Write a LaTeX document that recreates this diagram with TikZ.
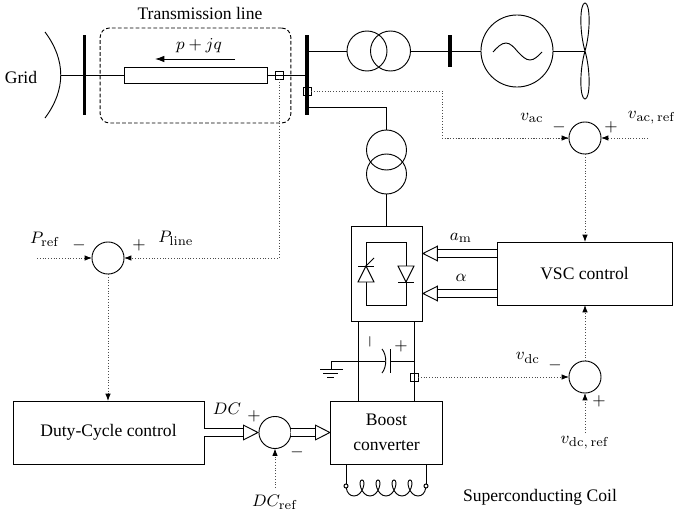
\documentclass[tikz,border=0pt]{standalone}
\usepackage[no-math]{fontspec}
\setmainfont{Liberation Serif}
\usetikzlibrary{arrows.meta, calc}

\begin{document}
\begin{tikzpicture}[
    x=0.54pt, y=-0.54pt, line width=0.5pt,
    every node/.style={font=\fontsize{9.5}{11.5}\selectfont},
    block/.style={rectangle, draw=black, outer sep=0pt, inner sep=0pt, align=center},
    summer/.style={circle, draw=black, outer sep=0pt, inner sep=0pt, minimum size=17.3pt},
    coilcircle/.style={circle, draw=black, outer sep=0pt, inner sep=0pt, minimum size=21.6pt},
    bus/.style={rectangle, fill=black, outer sep=0pt, inner sep=0pt, minimum width=1.7pt},
    meas/.style={rectangle, draw=black, outer sep=0pt, inner sep=0pt, minimum size=4.3pt},
    term/.style={circle, draw=black, fill=white, outer sep=0pt, inner sep=0pt, minimum size=2.2pt},
    sig/.style={densely dotted, draw=black!70, -{Latex[black, length=4pt, width=3pt]}},
    meter/.style={densely dotted, draw=black!70},
    power/.style={double, double distance=3.8pt, -{Triangle[open, length=8.6pt, width=8.6pt, line width=0.5pt]}},
    sgn/.style={inner sep=0pt}
]
\useasboundingbox (0,0) rectangle (674,514);

%% Grid and transmission line
\node[inner sep=0pt] (grid) at (21,77) {Grid};
\coordinate (gridarc) at (61,75);
\draw (45,32) .. controls (66,60) and (66,90) .. (45,118);
\node[bus, minimum height=43.2pt] (busA) at (84.5,75) {};
\node[bus, minimum height=43.2pt] (busB) at (307,75) {};
\node[block, dashed, dash pattern=on 2pt off 1.2pt, rounded corners=5pt,
    minimum width=103pt, minimum height=51.3pt] (tline) at (195.5,75.5) {};
\node[inner sep=0pt] (tlabel) at (200,13) {Transmission line};
\node[block, minimum width=77.2pt, minimum height=8.6pt] (linebox) at (195.5,75) {};
\node[meas] (measP) at (279,75) {};
\node[meas] (measV) at (307,91) {};
\draw (gridarc) -- (linebox);
\draw (linebox) -- (busB);
\coordinate (flowA) at (235,59);
\coordinate (flowB) at (155,59);
\draw[-{Latex[length=5pt, width=3.5pt]}] (flowA) -- (flowB);
\node[inner sep=0pt] (flow) at (199,46) {$p+jq$};

%% Transformer, generator, fan
\node[coilcircle] (trA) at (367,51) {};
\node[coilcircle] (trB) at (390.5,51) {};
\node[bus, minimum height=17.3pt] (busC) at (450,51) {};
\node[circle, draw=black, outer sep=0pt, inner sep=0pt, minimum size=38.9pt] (gen) at (517,51) {};
\coordinate (hub) at (585,51);
\draw (trA -| busB) -- (trA);
\draw (trB) -- (busC);
\draw (busC) -- (gen);
\draw (gen) -- (hub);
\draw (493,52) sin (506,43) cos (518,52) sin (530,60) cos (542,52);
\draw (hub) .. controls (591,30) and (590,3) .. (585,3) .. controls (580,3) and (579,30) .. (hub);
\draw (hub) .. controls (591,72) and (590,99) .. (585,99) .. controls (580,99) and (579,72) .. (hub);

%% Shunt transformer and converter
\node[coilcircle] (trC) at (386.5,150) {};
\node[coilcircle] (trD) at (386.5,174) {};
\coordinate (tap) at (307,107);
\draw (tap) -| (trC);
\node[block, minimum width=38.3pt, minimum height=51.3pt] (conv) at (386.5,273.5) {};
\draw (trD) -- (conv);
\draw (366,242) rectangle (406,305);
\draw[fill=white] (366,266) -- (374,282) -- (358,282) -- cycle;
\draw (358,266) -- (374,266);
\draw (366,266) -- (374,258);
\draw[fill=white] (406,282) -- (398,266) -- (414,266) -- cycle;
\draw (398,282) -- (414,282);

%% Control blocks
\node[block, minimum width=94.5pt, minimum height=34pt] (vsc) at (584.5,273.5) {VSC control};
\node[block, minimum width=60pt, minimum height=34pt] (boost) at (386.5,432.5) {Boost\\[2pt]converter};
\node[block, minimum width=103.1pt, minimum height=34pt] (duty) at (108.5,432.5) {Duty-Cycle control};

\draw[power] ([yshift=10.8pt]vsc.west) -- ([yshift=10.8pt]conv.east);
\draw[power] ([yshift=-10.8pt]vsc.west) -- ([yshift=-10.8pt]conv.east);
\node[inner sep=0pt] (am) at (461,238) {$a_{\mathrm{m}}$};
\node[inner sep=0pt] (alpha) at (461,278) {$\alpha$};

%% DC link
\draw ([xshift=-15.1pt]conv.south) -- ([xshift=-15.1pt]boost.north);
\draw ([xshift=15.1pt]conv.south) -- ([xshift=15.1pt]boost.north);
\coordinate (capL) at (385,361);
\coordinate (capR) at (390,361);
\coordinate (gnd) at (331,369);
\draw (gnd) |- (capL);
\draw (capR) -- (414,361);
\draw (382,349) .. controls (387,355) and (387,367) .. (382,373);
\draw (capR |- 0,349) -- (capR |- 0,373);
\draw (320,369) -- (343,369);
\draw (323,373) -- (338,373);
\draw (327,377) -- (334,377);
\node[sgn, rotate=90] (capminus) at (370,342) {$-$};
\node[sgn] (capplus) at (401,346) {$+$};
\node[meas] (measD) at (414,377) {};

%% Superconducting coil
\node[term] (coilL) at (346,486) {};
\node[term] (coilR) at (426,486) {};
\draw (boost.south -| coilL) -- (coilL);
\draw (boost.south -| coilR) -- (coilR);
\draw (coilL) .. controls (347,493) and (350,496) .. (354,496);
\foreach \xc in {362,378,394,410}
    \draw (\xc-8,496) .. controls (\xc+1,496) and (\xc+4.5,480) .. (\xc,480)
        .. controls (\xc-4.5,480) and (\xc-1,496) .. (\xc+8,496);
\draw (418,496) .. controls (422,496) and (425,493) .. (coilR);
\node[inner sep=0pt] (coiltext) at (540,497) {Superconducting Coil};

%% AC voltage loop
\node[summer] (sumAC) at (585,138) {};
\coordinate (acref) at (648,138);
\draw[meter] (measV) -- (442,91) |- (sumAC.west);
\draw[sig] (442,138) -- (sumAC);
\draw[sig] (acref) -- (sumAC);
\draw[sig] (sumAC) -- (vsc.north -| sumAC);
\node[sgn] (acvlabel) at (532,118) {$v_{\mathrm{ac}}$};
\node[sgn] (acrlabel) at (652,118) {$v_{\mathrm{ac,\,ref}}$};
\node[sgn] (acminus) at (559,127) {$-$};
\node[sgn] (acplus) at (611,127) {$+$};

%% DC voltage loop
\node[summer] (sumDV) at (585,377) {};
\coordinate (dvref) at (585,433);
\draw[sig] (measD) -- (sumDV);
\draw[sig] (dvref) -- (sumDV);
\draw[sig] (sumDV) -- (vsc.south -| sumDV);
\node[sgn] (dvlabel) at (528,358) {$v_{\mathrm{dc}}$};
\node[sgn] (dvrlabel) at (585,443) {$v_{\mathrm{dc,\,ref}}$};
\node[sgn] (dvminus) at (555,365) {$-$};
\node[sgn] (dvplus) at (599,401) {$+$};

%% Power loop
\node[summer] (sumP) at (108,258) {};
\coordinate (pref) at (37,258);
\draw[sig] (pref) -- (sumP);
\draw[sig] (measP) |- (sumP);
\draw[sig] (sumP) -- (duty.north -| sumP);
\node[sgn] (prlabel) at (45,239) {$P_{\mathrm{ref}}$};
\node[sgn] (pllabel) at (176,238) {$P_{\mathrm{line}}$};
\node[sgn] (pminus) at (79,245) {$-$};
\node[sgn] (pplus) at (139,245) {$+$};

%% Duty cycle loop
\node[summer] (sumDC) at (275,432.5) {};
\coordinate (dcref) at (275,488);
\draw[power] (duty) -- (sumDC);
\draw[power] (sumDC) -- (boost);
\draw[sig] (dcref) -- (sumDC);
\node[sgn] (dclabel) at (227,409) {$DC$};
\node[sgn] (dcrlabel) at (275,502) {$DC_{\mathrm{ref}}$};
\node[sgn] (dcplus) at (254,416) {$+$};
\node[sgn] (dcminus) at (297,452) {$-$};

\end{tikzpicture}
\end{document}
